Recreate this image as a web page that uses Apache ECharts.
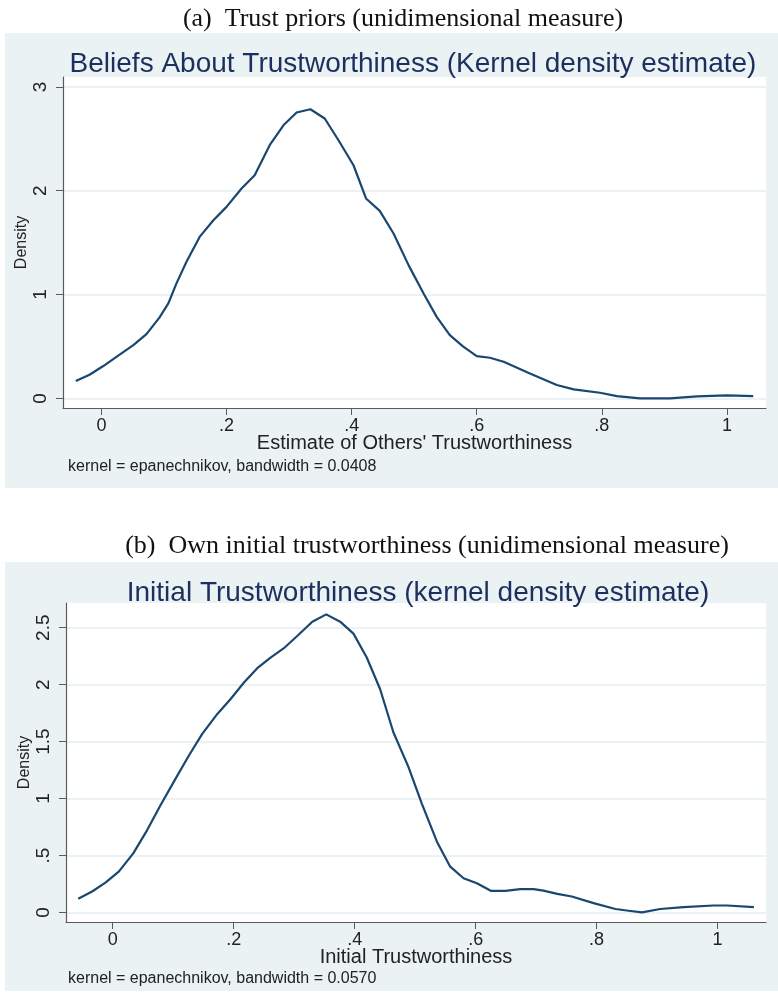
<!DOCTYPE html>
<html>
<head>
<meta charset="utf-8">
<script src="https://cdn.jsdelivr.net/npm/echarts@6/dist/echarts.min.js"></script>
<style>
  html, body { margin: 0; padding: 0; background: #fff; }
  #myChart { width: 778px; height: 995px; }
</style>
</head>
<body>
<div id="myChart"></div>
<script>
// Panel (a): Beliefs about trustworthiness, kernel density
var beliefsX = [-0.041, -0.019, 0.003, 0.024, 0.051, 0.072, 0.093, 0.107, 0.12, 0.136, 0.157, 0.179, 0.2,
	0.224, 0.245, 0.269, 0.291, 0.312, 0.334, 0.357, 0.379, 0.403, 0.423, 0.445, 0.467, 0.491, 0.515,
	0.536, 0.557, 0.578, 0.6, 0.621, 0.643, 0.685, 0.728, 0.755, 0.797, 0.824, 0.861, 0.909, 0.952, 1.0, 1.042];
var beliefsY = [0.167, 0.227, 0.311, 0.40, 0.513, 0.619, 0.78, 0.914, 1.107, 1.315, 1.555, 1.716, 1.844,
	2.021, 2.149, 2.438, 2.63, 2.753, 2.784, 2.695, 2.486, 2.245, 1.925, 1.806, 1.588, 1.283, 1.01,
	0.785, 0.609, 0.5, 0.407, 0.391, 0.352, 0.24, 0.128, 0.086, 0.054, 0.022, 0.0, 0.0, 0.019, 0.029, 0.022];

// Panel (b): Initial trustworthiness, kernel density
var initialX = [-0.057, -0.034, -0.012, 0.01, 0.034, 0.057, 0.079, 0.104, 0.126, 0.148, 0.173, 0.195, 0.217,
	0.239, 0.261, 0.283, 0.305, 0.33, 0.353, 0.376, 0.398, 0.42, 0.442, 0.464, 0.489, 0.511, 0.536, 0.558,
	0.58, 0.602, 0.625, 0.649, 0.674, 0.696, 0.712, 0.735, 0.759, 0.795, 0.831, 0.853, 0.875, 0.905, 0.944,
	0.993, 1.016, 1.06];
var initialY = [0.12, 0.184, 0.262, 0.358, 0.519, 0.723, 0.941, 1.175, 1.378, 1.568, 1.743, 1.874, 2.019,
	2.145, 2.238, 2.32, 2.427, 2.553, 2.617, 2.553, 2.448, 2.238, 1.962, 1.582, 1.276, 0.956, 0.621, 0.402,
	0.30, 0.257, 0.19, 0.19, 0.204, 0.204, 0.192, 0.163, 0.14, 0.082, 0.03, 0.015, 0.0, 0.03, 0.047,
	0.061, 0.061, 0.047];

var xTicks = [0, 0.2, 0.4, 0.6, 0.8, 1];
var yTicksA = [0, 1, 2, 3];
var yTicksB = [0, 0.5, 1, 1.5, 2, 2.5];

function pairs(xs, ys) {
	var out = [];
	for (var i = 0; i < xs.length; i++) {
		out.push([xs[i], ys[i]]);
	}
	return out;
}

// Stata style labels: .2 instead of 0.2
function stataLabel(v) {
	var s = String(Math.round(v * 100) / 100);
	return s.replace(/^0\./, '.');
}

var panelBg = '#eaf2f3';
var navy = '#1a476f';
var titleColor = '#1c2f5e';
var axisColor = '#5a5a5a';
var textColor = '#222';

function xAxisFor(gridIndex, min, max, name) {
	return {
		type: 'value',
		gridIndex: gridIndex,
		min: min,
		max: max,
		name: name,
		nameLocation: 'middle',
		nameGap: 25,
		nameMoveOverlap: false,
		nameTextStyle: { color: textColor, fontSize: 20, fontFamily: 'Liberation Sans' },
		axisLine: { show: true, onZero: false, lineStyle: { color: axisColor, width: 1.2 } },
		axisTick: { show: true, length: 7, customValues: xTicks, lineStyle: { color: axisColor } },
		axisLabel: {
			customValues: xTicks,
			color: textColor,
			fontSize: 18,
			fontFamily: 'Liberation Sans',
			margin: 9,
			formatter: stataLabel
		},
		splitLine: { show: false }
	};
}

function yAxisFor(gridIndex, min, max, ticks) {
	return {
		type: 'value',
		gridIndex: gridIndex,
		min: min,
		max: max,
		name: 'Density',
		nameLocation: 'middle',
		nameGap: 33,
		nameMoveOverlap: false,
		nameRotate: 90,
		nameTextStyle: { color: textColor, fontSize: 16, fontFamily: 'Liberation Sans' },
		axisLine: { show: true, onZero: false, lineStyle: { color: axisColor, width: 1.2 } },
		axisTick: { show: true, length: 7, customValues: ticks, lineStyle: { color: axisColor } },
		axisLabel: {
			customValues: ticks,
			rotate: 90,
			color: textColor,
			fontSize: 19,
			fontFamily: 'Liberation Sans',
			margin: 13,
			formatter: stataLabel
		},
		splitLine: { show: true, lineStyle: { color: '#e6eef1', width: 1.5 } }
	};
}

var option = {
	backgroundColor: '#ffffff',
	animation: false,
	graphic: [
		{ type: 'rect', z: -10, shape: { x: 5, y: 33, width: 773, height: 455 }, style: { fill: panelBg } },
		{ type: 'rect', z: -10, shape: { x: 5, y: 562, width: 773, height: 429 }, style: { fill: panelBg } }
	],
	title: [
		{
			text: '(a)  Trust priors (unidimensional measure)',
			left: 398, top: 1, textAlign: 'center',
			textStyle: { fontFamily: 'Liberation Serif', fontSize: 26, fontWeight: 'normal', color: '#111' }
		},
		{
			text: 'Beliefs About Trustworthiness (Kernel density estimate)',
			left: 408, top: 45, textAlign: 'center',
			textStyle: { fontFamily: 'Liberation Sans', fontSize: 28, fontWeight: 'normal', color: titleColor }
		},
		{
			text: 'kernel = epanechnikov, bandwidth = 0.0408',
			left: 63, top: 454,
			textStyle: { fontFamily: 'Liberation Sans', fontSize: 16, fontWeight: 'normal', color: textColor }
		},
		{
			text: '(b)  Own initial trustworthiness (unidimensional measure)',
			left: 422, top: 528, textAlign: 'center',
			textStyle: { fontFamily: 'Liberation Serif', fontSize: 26, fontWeight: 'normal', color: '#111' }
		},
		{
			text: 'Initial Trustworthiness (kernel density estimate)',
			left: 413, top: 574, textAlign: 'center',
			textStyle: { fontFamily: 'Liberation Sans', fontSize: 28, fontWeight: 'normal', color: titleColor }
		},
		{
			text: 'kernel = epanechnikov, bandwidth = 0.0570',
			left: 63, top: 966,
			textStyle: { fontFamily: 'Liberation Sans', fontSize: 16, fontWeight: 'normal', color: textColor }
		}
	],
	grid: [
		{ left: 63, top: 77, width: 703, height: 331, show: true, backgroundColor: '#fff', borderWidth: 0 },
		{ left: 66, top: 603, width: 700, height: 319, show: true, backgroundColor: '#fff', borderWidth: 0 }
	],
	xAxis: [
		xAxisFor(0, -0.0614, 1.0624, "Estimate of Others' Trustworthiness"),
		xAxisFor(1, -0.0772, 1.0800, 'Initial Trustworthiness')
	],
	yAxis: [
		yAxisFor(0, -0.093, 3.095, yTicksA),
		yAxisFor(1, -0.084, 2.717, yTicksB)
	],
	series: [
		{
			type: 'line',
			xAxisIndex: 0,
			yAxisIndex: 0,
			data: pairs(beliefsX, beliefsY),
			showSymbol: false,
			lineStyle: { color: navy, width: 2.2 }
		},
		{
			type: 'line',
			xAxisIndex: 1,
			yAxisIndex: 1,
			data: pairs(initialX, initialY),
			showSymbol: false,
			lineStyle: { color: navy, width: 2.2 }
		}
	]
};

var myChart = echarts.init(document.getElementById('myChart'));
myChart.setOption(option);
</script>
</body>
</html>
